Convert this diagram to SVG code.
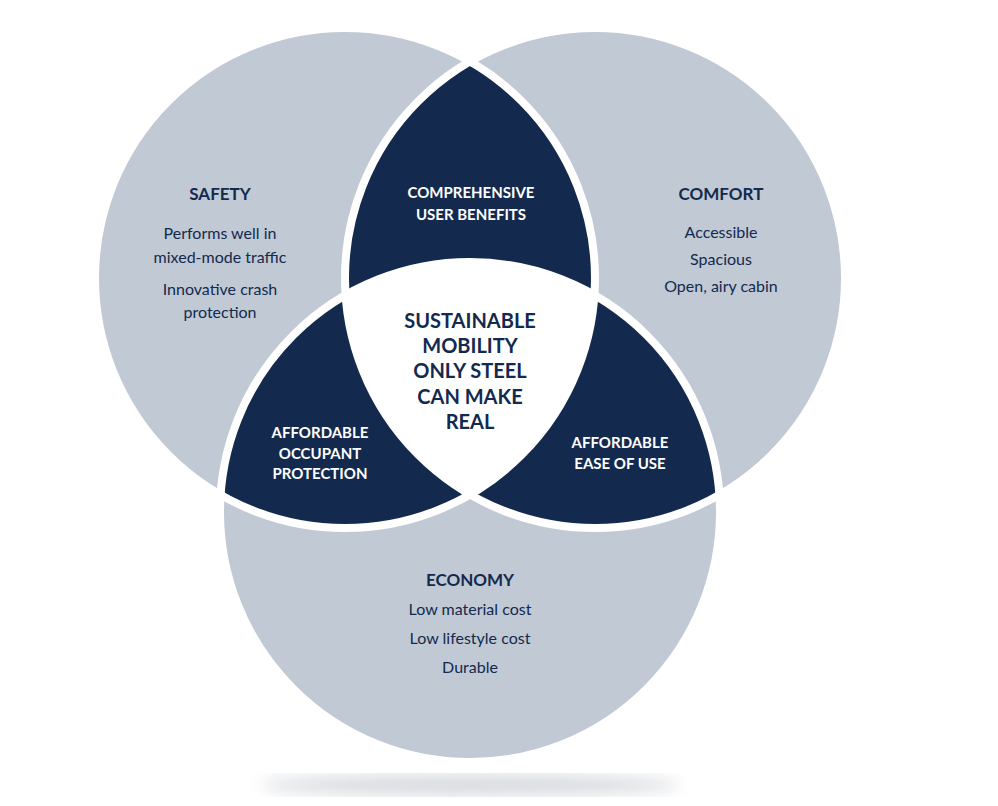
<svg xmlns="http://www.w3.org/2000/svg" width="998" height="806" viewBox="0 0 998 806">
<style>
.h{font-family:Lato,"Open Sans",sans-serif;font-weight:bold;font-size:17px;fill:#132a4e;text-anchor:middle}
.b{font-family:Lato,"Open Sans",sans-serif;font-size:16px;fill:#132a4e;text-anchor:middle}
.w{font-family:Lato,"Open Sans",sans-serif;font-weight:bold;font-size:15px;fill:#fff;text-anchor:middle}
.c{font-family:Lato,"Open Sans",sans-serif;font-weight:bold;font-size:20px;fill:#132a4e;text-anchor:middle}
.ring{fill:none;stroke:#fff;stroke-width:8}
</style>
<defs>
<circle id="cL" cx="345" cy="278" r="250"/>
<circle id="cR" cx="595" cy="278" r="250"/>
<circle id="cB" cx="470" cy="512" r="250"/>
<clipPath id="kL"><use href="#cL"/></clipPath>
<clipPath id="kR"><use href="#cR"/></clipPath>
<filter id="bl"><feGaussianBlur stdDeviation="8"/></filter>
</defs>
<rect width="998" height="806" fill="#fff"/>
<ellipse cx="470" cy="785" rx="210" ry="10" fill="#d5d8dd" filter="url(#bl)"/>
<g id="circles" fill="#c0c9d4">
<use href="#cL"/><use href="#cR"/><use href="#cB"/>
</g>
<g id="overlaps" fill="#132a4e">
<use href="#cR" clip-path="url(#kL)"/>
<use href="#cB" clip-path="url(#kL)"/>
<use href="#cB" clip-path="url(#kR)"/>
<g clip-path="url(#kL)"><use href="#cB" fill="#fff" clip-path="url(#kR)"/></g>
</g>
<g id="rings"><use href="#cL" class="ring"/><use href="#cR" class="ring"/><use href="#cB" class="ring"/></g>
<g id="safety"><text class="h" x="220" y="200">SAFETY</text>
<text class="b" x="220" y="239">Performs well in</text><text class="b" x="220" y="263">mixed-mode traffic</text>
<text class="b" x="220" y="295">Innovative crash</text><text class="b" x="220" y="318">protection</text></g>
<g id="comfort"><text class="h" x="721" y="200">COMFORT</text>
<text class="b" x="721" y="238">Accessible</text><text class="b" x="721" y="265">Spacious</text><text class="b" x="721" y="292">Open, airy cabin</text></g>
<g id="economy"><text class="h" x="470" y="586">ECONOMY</text>
<text class="b" x="470" y="615">Low material cost</text><text class="b" x="470" y="644">Low lifestyle cost</text><text class="b" x="470" y="673">Durable</text></g>
<g id="comprehensive"><text class="w" x="471" y="198">COMPREHENSIVE</text><text class="w" x="471" y="220">USER BENEFITS</text></g>
<g id="occupant"><text class="w" x="320" y="438">AFFORDABLE</text><text class="w" x="320" y="459">OCCUPANT</text><text class="w" x="320" y="479">PROTECTION</text></g>
<g id="ease"><text class="w" x="620" y="448">AFFORDABLE</text><text class="w" x="620" y="469">EASE OF USE</text></g>
<g id="center"><text class="c" x="470" y="328">SUSTAINABLE</text><text class="c" x="470" y="353">MOBILITY</text><text class="c" x="470" y="378">ONLY STEEL</text><text class="c" x="470" y="404">CAN MAKE</text><text class="c" x="470" y="429">REAL</text></g>
</svg>
